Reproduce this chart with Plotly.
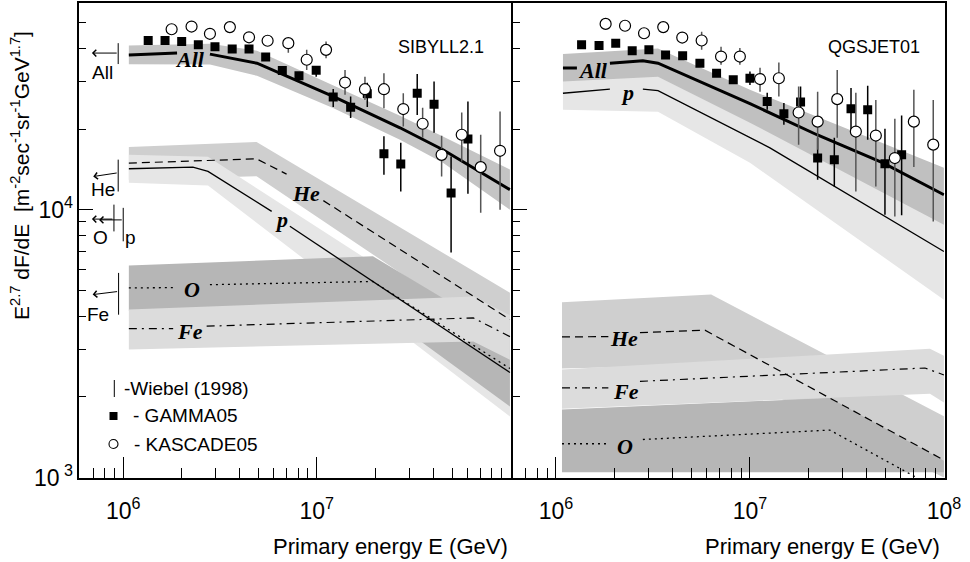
import plotly.graph_objects as go

# ---------------- data (log10 E [GeV], log10 F) ----------------
# SIBYLL2.1 panel: model curves (None = gap for the curve label)
sib_all_logE = [6.029, 6.278, None, 6.448, 6.691, 7.084, 7.430, 7.652, 7.998]
sib_all_logF = [4.578, 4.585, None, 4.581, 4.547, 4.423, 4.306, 4.224, 4.075]
sib_all_band_logE = [6.029, 6.448, 6.691, 7.084, 7.430, 7.652, 7.998]
sib_all_band_hi = [4.613, 4.620, 4.594, 4.466, 4.351, 4.273, 4.150]
sib_all_band_lo = [4.543, 4.542, 4.500, 4.380, 4.261, 4.175, 4.000]

sib_he_logE = [6.029, 6.689, 6.844, None, 7.034, 7.998]
sib_he_logF = [4.174, 4.190, 4.133, None, 4.034, 3.590]
sib_he_band_logE = [6.029, 6.689, 7.998]
sib_he_band_hi = [4.234, 4.253, 3.690]
sib_he_band_lo = [4.112, 4.125, 3.489]

sib_p_logE = [6.029, 6.360, 6.438, 6.767, None, 6.861, 7.998]
sib_p_logF = [4.153, 4.159, 4.143, 3.994, None, 3.938, 3.392]
sib_p_band_logE = [6.029, 6.438, 7.998]
sib_p_band_hi = [4.205, 4.198, 3.470]
sib_p_band_lo = [4.101, 4.090, 3.228]

sib_o_logE = [6.029, 6.258, None, 6.448, 7.290, 7.998]
sib_o_logF = [3.708, 3.709, None, 3.720, 3.732, 3.407]
sib_o_band_logE = [6.029, 7.290, 7.998]
sib_o_band_hi = [3.792, 3.826, 3.520]
sib_o_band_lo = [3.623, 3.639, 3.265]

sib_fe_logE = [6.029, 6.258, None, 6.431, 7.809, 7.998]
sib_fe_logF = [3.556, 3.556, None, 3.565, 3.596, 3.526]
sib_fe_band_logE = [6.029, 7.809, 7.998]
sib_fe_band_hi = [3.627, 3.676, 3.606]
sib_fe_band_lo = [3.478, 3.508, 3.440]

# QGSJET01 panel
qgs_all_logE = [6.036, 6.108, None, 6.278, 6.448, 6.526, 7.000, 7.345, 7.686, 8.000]
qgs_all_logF = [4.529, 4.529, None, 4.547, 4.556, 4.547, 4.396, 4.280, 4.175, 4.056]
qgs_all_band_logE = [6.036, 6.526, 7.000, 8.000]
qgs_all_band_hi = [4.582, 4.602, 4.448, 4.157]
qgs_all_band_lo = [4.479, 4.497, 4.325, 3.944]

qgs_p_logE = [6.036, 6.278, None, 6.448, 6.526, 7.103, 8.000]
qgs_p_logF = [4.435, 4.450, None, 4.450, 4.445, 4.231, 3.844]
qgs_p_band_logE = [6.036, 6.526, 7.000, 8.000]
qgs_p_band_hi = [4.500, 4.507, 4.336, 4.019]
qgs_p_band_lo = [4.373, 4.366, 4.175, 3.664]

qgs_he_logE = [6.031, 6.270, None, 6.433, 6.768, 7.995]
qgs_he_logF = [3.525, 3.526, None, 3.541, 3.550, 3.067]
qgs_he_band_logE = [6.031, 6.800, 8.000]
qgs_he_band_hi = [3.654, 3.683, 3.229]
qgs_he_band_lo = [3.407, 3.420, 3.000]

qgs_fe_logE = [6.031, 6.270, None, 6.433, 7.902, 8.000]
qgs_fe_logF = [3.335, 3.335, None, 3.359, 3.409, 3.383]
qgs_fe_band_logE = [6.031, 7.928, 8.000]
qgs_fe_band_hi = [3.403, 3.481, 3.455]
qgs_fe_band_lo = [3.257, 3.313, 3.280]

qgs_o_logE = [6.031, 6.270, None, 6.448, 7.412, 7.808, 8.000]
qgs_o_logF = [3.126, 3.126, None, 3.142, 3.177, 3.020, 2.944]
qgs_o_band_logE = [6.031, 7.412, 8.000]
qgs_o_band_hi = [3.254, 3.297, 3.063]
qgs_o_band_lo = [3.020, 3.020, 3.020]

# GAMMA05 (squares) - left panel
g_left_logE = [6.129, 6.216, 6.302, 6.388, 6.474, 6.563, 6.650, 6.736, 6.822, 6.908,
               6.997, 7.085, 7.175, 7.261, 7.347, 7.434, 7.519, 7.606, 7.694, 7.781]
g_left_logF = [4.632, 4.632, 4.628, 4.616, 4.609, 4.600, 4.600, 4.570, 4.520, 4.500,
               4.521, 4.421, 4.383, 4.433, 4.209, 4.171, 4.435, 4.394, 4.062, 4.264]
g_left_hi = [4.632, 4.632, 4.628, 4.616, 4.609, 4.600, 4.600, 4.570, 4.520, 4.500,
             4.535, 4.451, 4.423, 4.474, 4.274, 4.250, 4.507, 4.479, 4.199, 4.404]
g_left_lo = [4.632, 4.632, 4.628, 4.616, 4.609, 4.600, 4.600, 4.570, 4.520, 4.500,
             4.497, 4.384, 4.343, 4.384, 4.131, 4.068, 4.354, 4.287, 3.840, 4.060]

# KASCADE05 (circles) - left panel
k_left_logE = [6.250, 6.353, 6.448, 6.551, 6.650, 6.746, 6.853, 6.948, 7.048, 7.146,
               7.249, 7.347, 7.447, 7.547, 7.645, 7.749, 7.847, 7.947]
k_left_logF = [4.674, 4.684, 4.657, 4.682, 4.644, 4.631, 4.622, 4.560, 4.597, 4.475,
               4.450, 4.450, 4.376, 4.321, 4.205, 4.280, 4.159, 4.220]
k_left_hi = [4.674, 4.684, 4.657, 4.682, 4.644, 4.631, 4.638, 4.597, 4.628, 4.522,
             4.497, 4.510, 4.435, 4.381, 4.276, 4.363, 4.280, 4.367]
k_left_lo = [4.674, 4.684, 4.657, 4.682, 4.644, 4.631, 4.586, 4.522, 4.566, 4.429,
             4.410, 4.379, 4.311, 4.269, 4.124, 4.180, 3.989, 4.000]

# GAMMA05 (squares) - right panel
g_right_logE = [6.132, 6.222, 6.308, 6.393, 6.479, 6.565, 6.653, 6.742, 6.828, 6.914,
                7.000, 7.089, 7.175, 7.261, 7.349, 7.435, 7.521, 7.607, 7.696, 7.782]
g_right_logF = [4.616, 4.613, 4.622, 4.594, 4.597, 4.578, 4.575, 4.547, 4.510, 4.485,
                4.491, 4.404, 4.358, 4.402, 4.193, 4.187, 4.377, 4.373, 4.172, 4.205]
g_right_hi = [4.616, 4.613, 4.622, 4.594, 4.597, 4.578, 4.575, 4.547, 4.510, 4.485,
              4.516, 4.437, 4.399, 4.460, 4.269, 4.269, 4.455, 4.463, 4.302, 4.352]
g_right_lo = [4.616, 4.613, 4.622, 4.594, 4.597, 4.578, 4.575, 4.547, 4.510, 4.485,
              4.466, 4.373, 4.317, 4.343, 4.112, 4.087, 4.287, 4.261, 3.981, 3.979]

# KASCADE05 (circles) - right panel
k_right_logE = [6.256, 6.356, 6.454, 6.553, 6.651, 6.751, 6.851, 6.948, 7.052, 7.149,
                7.251, 7.349, 7.450, 7.546, 7.649, 7.747, 7.845, 7.945]
k_right_logF = [4.694, 4.687, 4.659, 4.682, 4.643, 4.632, 4.572, 4.572, 4.488, 4.491,
                4.363, 4.329, 4.413, 4.292, 4.277, 4.193, 4.329, 4.243]
k_right_hi = [4.694, 4.687, 4.659, 4.682, 4.643, 4.665, 4.609, 4.604, 4.530, 4.550,
              4.460, 4.441, 4.522, 4.437, 4.410, 4.340, 4.448, 4.410]
k_right_lo = [4.694, 4.687, 4.659, 4.682, 4.643, 4.597, 4.541, 4.541, 4.441, 4.423,
              4.243, 4.224, 4.269, 4.068, 4.087, 3.975, 4.160, 3.956]

# Wiebel (1998) markers (bar position, arrow tip)
wiebel_labels = ["All", "He", "O", "p", "Fe"]
wiebel_logE = [5.974, 5.974, 5.952, 6.000, 5.976]
wiebel_logF = [4.585, 4.138, 3.965, 3.962, 3.695]
wiebel_bar_hi = [4.622, 4.187, 4.019, 4.007, 3.764]
wiebel_bar_lo = [4.544, 4.068, 3.919, 3.882, 3.608]
wiebel_tip_logE = [5.838, 5.845, 5.838, 5.875, 5.842]
wiebel_tip_logF = [4.585, 4.124, 3.965, 3.962, 3.683]

x_major = [1e6, 1e7]
x_major_right = [1e6, 1e7, 1e8]
x_major_text = ["10<sup>6</sup>", "10<sup>7</sup>"]
x_major_text_right = ["10<sup>6</sup>", "10<sup>7</sup>", "10<sup>8</sup>"]
y_major = [1e3, 1e4]
y_major_text = ["10<sup> 3</sup>", "10<sup>4</sup>"]

# ---------------- figure ----------------
W, H = 970, 562


def fx(p):
    return p / W


def fy(p):
    return 1 - p / H


def pw(vals):
    return [None if v is None else 10 ** v for v in vals]


fig = go.Figure()


def band(xa, ya, le, hi, lo, color):
    xs = pw(le) + pw(le[::-1])
    ys = pw(hi) + pw(lo[::-1])
    fig.add_trace(go.Scatter(x=xs, y=ys, mode="lines", fill="toself", fillcolor=color,
                             line=dict(width=0, color=color), hoverinfo="skip",
                             showlegend=False, xaxis=xa, yaxis=ya))


def curve(xa, ya, le, lf, width, dash="solid"):
    fig.add_trace(go.Scatter(x=pw(le), y=pw(lf), mode="lines",
                             line=dict(color="black", width=width, dash=dash),
                             connectgaps=False, hoverinfo="skip", showlegend=False,
                             xaxis=xa, yaxis=ya))


def points(xa, ya, le, lf, hi, lo, kind):
    F = pw(lf)
    up = [10 ** h - f for h, f in zip(hi, F)]
    dn = [f - 10 ** l for l, f in zip(lo, F)]
    if kind == "square":
        marker = dict(symbol="square", size=9, color="black")
        ecol = "black"
    else:
        marker = dict(symbol="circle", size=11, color="white",
                      line=dict(color="black", width=1.2))
        ecol = "#555555"
    fig.add_trace(go.Scatter(x=pw(le), y=F, mode="markers", marker=marker,
                             error_y=dict(type="data", symmetric=False, array=up,
                                          arrayminus=dn, color=ecol, thickness=1.5, width=0),
                             hoverinfo="skip", showlegend=False, xaxis=xa, yaxis=ya))


DASH = "8px,5px"
DASHDOT = "8px,5px,2px,5px"
DOT = "2px,4px"

# left panel bands (order matters for overlaps)
band("x", "y", sib_he_band_logE, sib_he_band_hi, sib_he_band_lo, "#cfcfcf")
band("x", "y", sib_p_band_logE, sib_p_band_hi, sib_p_band_lo, "#e6e6e6")
band("x", "y", sib_o_band_logE, sib_o_band_hi, sib_o_band_lo, "#b6b6b6")
band("x", "y", sib_fe_band_logE, sib_fe_band_hi, sib_fe_band_lo, "#dcdcdc")
band("x", "y", sib_all_band_logE, sib_all_band_hi, sib_all_band_lo, "#c4c4c4")
curve("x", "y", sib_he_logE, sib_he_logF, 1.2, DASH)
curve("x", "y", sib_p_logE, sib_p_logF, 1.3)
curve("x", "y", sib_o_logE, sib_o_logF, 1.3, DOT)
curve("x", "y", sib_fe_logE, sib_fe_logF, 1.2, DASHDOT)
curve("x", "y", sib_all_logE, sib_all_logF, 3)

# right panel bands
band("x2", "y2", qgs_he_band_logE, qgs_he_band_hi, qgs_he_band_lo, "#cfcfcf")
band("x2", "y2", qgs_o_band_logE, qgs_o_band_hi, qgs_o_band_lo, "#b6b6b6")
band("x2", "y2", qgs_fe_band_logE, qgs_fe_band_hi, qgs_fe_band_lo, "#dcdcdc")
band("x2", "y2", qgs_p_band_logE, qgs_p_band_hi, qgs_p_band_lo, "#e6e6e6")
band("x2", "y2", qgs_all_band_logE, qgs_all_band_hi, qgs_all_band_lo, "#c0c0c0")
curve("x2", "y2", qgs_he_logE, qgs_he_logF, 1.2, DASH)
curve("x2", "y2", qgs_fe_logE, qgs_fe_logF, 1.2, DASHDOT)
curve("x2", "y2", qgs_o_logE, qgs_o_logF, 1.3, DOT)
curve("x2", "y2", qgs_p_logE, qgs_p_logF, 1.3)
curve("x2", "y2", qgs_all_logE, qgs_all_logF, 3)

# data points
points("x", "y", g_left_logE, g_left_logF, g_left_hi, g_left_lo, "square")
points("x", "y", k_left_logE, k_left_logF, k_left_hi, k_left_lo, "circle")
points("x2", "y2", g_right_logE, g_right_logF, g_right_hi, g_right_lo, "square")
points("x2", "y2", k_right_logE, k_right_logF, k_right_hi, k_right_lo, "circle")

# Wiebel bars
bx, by = [], []
for e, h, l in zip(wiebel_logE, wiebel_bar_hi, wiebel_bar_lo):
    bx += [10 ** e, 10 ** e, None]
    by += [10 ** l, 10 ** h, None]
fig.add_trace(go.Scatter(x=bx, y=by, mode="lines", line=dict(color="black", width=1),
                         hoverinfo="skip", showlegend=False, xaxis="x", yaxis="y"))
for i in range(len(wiebel_labels)):
    fig.add_annotation(x=wiebel_tip_logE[i], y=wiebel_tip_logF[i], ax=wiebel_logE[i],
                       ay=wiebel_logF[i], xref="x", yref="y", axref="x", ayref="y",
                       text="", showarrow=True, arrowhead=4, arrowsize=1.3,
                       arrowwidth=1, arrowcolor="black")

SANS = "Liberation Sans, Arial, sans-serif"
SERIF = "Liberation Serif, Times New Roman, serif"

# Wiebel labels
wiebel_label_pos = [(102, 72), (103, 189), (100, 237), (130, 237), (98, 314)]
for lab, (px_, py_) in zip(wiebel_labels, wiebel_label_pos):
    fig.add_annotation(x=fx(px_), y=fy(py_), xref="paper", yref="paper", text=lab,
                       showarrow=False, font=dict(family=SANS, size=19, color="black"),
                       xanchor="center", yanchor="middle")

# curve labels
curve_labels = [("All", 190, 59), ("He", 306, 193), ("p", 281, 219), ("O", 192, 289),
                ("Fe", 190, 331), ("All", 593, 71), ("p", 627, 92), ("He", 624, 338),
                ("Fe", 626, 391), ("O", 625, 446)]
for lab, px_, py_ in curve_labels:
    fig.add_annotation(x=fx(px_), y=fy(py_), xref="paper", yref="paper",
                       text="<b><i>%s</i></b>" % lab, showarrow=False,
                       font=dict(family=SERIF, size=22, color="black"),
                       xanchor="center", yanchor="middle")

# panel titles
fig.add_annotation(x=fx(486), y=fy(47), xref="paper", yref="paper", text="SIBYLL2.1",
                   showarrow=False, font=dict(family=SANS, size=18, color="black"),
                   xanchor="right", yanchor="middle")
fig.add_annotation(x=fx(922), y=fy(47), xref="paper", yref="paper", text="QGSJET01",
                   showarrow=False, font=dict(family=SANS, size=18, color="black"),
                   xanchor="right", yanchor="middle")

# axis titles
for xr in (510, 942):
    fig.add_annotation(x=fx(xr), y=fy(546), xref="paper", yref="paper",
                       text="Primary energy E (GeV)", showarrow=False,
                       font=dict(family=SANS, size=22, color="black"),
                       xanchor="right", yanchor="middle")
fig.add_annotation(x=fx(20), y=fy(176), xref="paper", yref="paper",
                   text="E<sup>2.7</sup> dF/dE  [m<sup>-2</sup>sec<sup>-1</sup>sr<sup>-1</sup>GeV<sup>1.7</sup>]",
                   textangle=-90, showarrow=False,
                   font=dict(family=SANS, size=21, color="black"),
                   xanchor="center", yanchor="middle")

# legend
fig.add_shape(type="line", xref="paper", yref="paper", x0=fx(114.3), x1=fx(114.3),
              y0=fy(380), y1=fy(397), line=dict(color="black", width=1))
fig.add_shape(type="rect", xref="paper", yref="paper", x0=fx(109.5), x1=fx(117.5),
              y0=fy(420), y1=fy(412), line=dict(width=0), fillcolor="black")
fig.add_shape(type="circle", xref="paper", yref="paper", x0=fx(109), x1=fx(118),
              y0=fy(448.5), y1=fy(439.5), line=dict(color="black", width=1.1),
              fillcolor="white")
for txt, xl, yc in [("-Wiebel (1998)", 122, 388), ("- GAMMA05", 131, 416),
                    ("- KASCADE05", 132, 444)]:
    fig.add_annotation(x=fx(xl), y=fy(yc), xref="paper", yref="paper", text=txt,
                       showarrow=False, font=dict(family=SANS, size=19, color="black"),
                       xanchor="left", yanchor="middle")

# axes
x_minor = [k * 10 ** n for n in (5, 6, 7) for k in range(2, 10)]
y_minor = [k * 10 ** n for n in (3, 4) for k in range(2, 10)]
y_minor = [v for v in y_minor if v < 5.9e4]

common_x = dict(type="log", showgrid=False, zeroline=False, showline=True, mirror=True,
                automargin=False,
                linecolor="black", linewidth=1.5, ticks="inside", ticklen=21,
                tickwidth=1, tickcolor="black",
                tickfont=dict(family=SANS, size=23, color="black"),
                ticklabelstandoff=12,
                minor=dict(tickmode="array", tickvals=x_minor, ticks="inside", ticklen=10,
                           tickwidth=1, tickcolor="black", showgrid=False))
common_y = dict(type="log", range=[3, 4.772], showgrid=False, zeroline=False, showline=True,
                automargin=False,
                mirror=True, linecolor="black", linewidth=1.5, ticks="inside", ticklen=14,
                tickwidth=1, tickcolor="black", tickvals=y_major, ticktext=y_major_text,
                tickfont=dict(family=SANS, size=23, color="black"),
                minor=dict(tickmode="array", tickvals=y_minor, ticks="inside", ticklen=7,
                           tickwidth=1, tickcolor="black", showgrid=False),
                domain=[fy(477.5), fy(3)])

fig.update_layout(
    width=W, height=H, margin=dict(l=0, r=0, t=0, b=0, autoexpand=False),
    paper_bgcolor="white", plot_bgcolor="white", showlegend=False,
    xaxis=dict(common_x, range=[5.773, 8.002], domain=[fx(79.3), fx(510.7)], anchor="y",
               tickvals=x_major, ticktext=x_major_text),
    yaxis=dict(common_y, anchor="x"),
    xaxis2=dict(common_x, range=[5.780, 8.003], domain=[fx(513.3), fx(944.5)], anchor="y2",
                tickvals=x_major_right, ticktext=x_major_text_right),
    yaxis2=dict(common_y, anchor="x2", showticklabels=False),
)

fig.write_html("out.html", config={"displayModeBar": False},
               post_script="document.body.style.margin='0';")
